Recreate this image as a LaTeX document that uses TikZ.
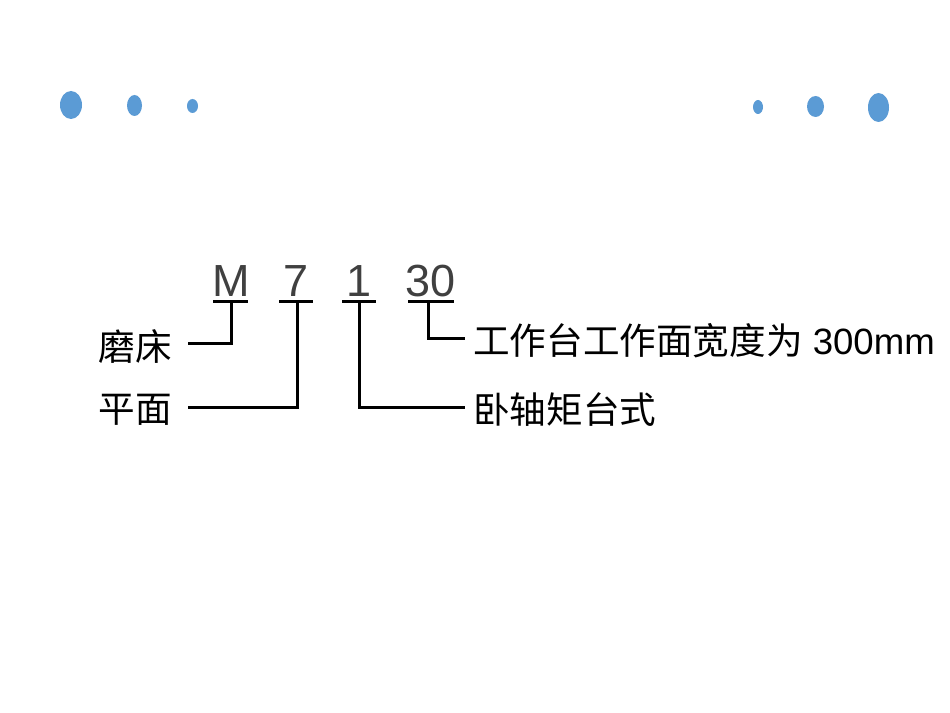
\documentclass[tikz,border=0pt]{standalone}
\usepackage{fontspec}
\setmainfont{Liberation Sans}
\newfontfamily\cjk{Noto Sans CJK SC}
\definecolor{dotblue}{HTML}{5B9BD5}
\definecolor{codegray}{HTML}{404040}
\begin{document}
\begin{tikzpicture}[x=1bp,y=-1bp,
  codeletter/.style={anchor=base, inner sep=0pt, text=codegray, font=\fontsize{45bp}{45bp}\selectfont},
  labeltext/.style={inner sep=0pt, text=black, font=\fontsize{36.6bp}{36.6bp}\selectfont},
  conn/.style={draw=black, line width=3bp},
  uline/.style={draw=black, line width=3bp}]
\useasboundingbox[fill=white] (0,0) rectangle (950,713);
% dots
\fill[dotblue] (71,105) ellipse [x radius=11bp, y radius=14bp];
\fill[dotblue] (134.5,105.5) ellipse [x radius=7.5bp, y radius=10.5bp];
\fill[dotblue] (192.5,106) ellipse [x radius=5.5bp, y radius=7bp];
\fill[dotblue] (758,107) ellipse [x radius=5bp, y radius=7bp];
\fill[dotblue] (815.5,106.5) ellipse [x radius=8.5bp, y radius=10.5bp];
\fill[dotblue] (878.5,107.5) ellipse [x radius=10.5bp, y radius=14.5bp];
% code letters
\node[codeletter] (cM) at (231,296) {M};
\node[codeletter] (c7) at (296,296) {7};
\node[codeletter] (c1) at (359,296) {1};
\node[codeletter] (c30) at (431,296) {30};
% underlines
\draw[uline] (213,301) -- (248,301);
\draw[uline] (279,301) -- (313,301);
\draw[uline] (342,301) -- (376,301);
\draw[uline] (408,301) -- (454,301);
\coordinate (uM) at (231,301);
\coordinate (u7) at (297,301);
\coordinate (u1) at (359,301);
\coordinate (u30) at (428,301);
% labels
\node[labeltext, anchor=east] (moc) at (172,347) {\cjk 磨床};
\node[labeltext, anchor=east] (pm) at (172,410) {\cjk 平面};
\node[labeltext, anchor=west] (gzt) at (473,341) {{\cjk 工作台工作面宽度为} 300mm};
\node[labeltext, anchor=west] (wz) at (473,410) {\cjk 卧轴矩台式};
% connector ends
\coordinate (eM) at (188,343);
\coordinate (e7) at (188,407);
\coordinate (e1) at (465,407);
\coordinate (e30) at (465,338);
\draw[conn] (uM) |- (eM);
\draw[conn] (u7) |- (e7);
\draw[conn] (u1) |- (e1);
\draw[conn] (u30) |- (e30);
\end{tikzpicture}
\end{document}
